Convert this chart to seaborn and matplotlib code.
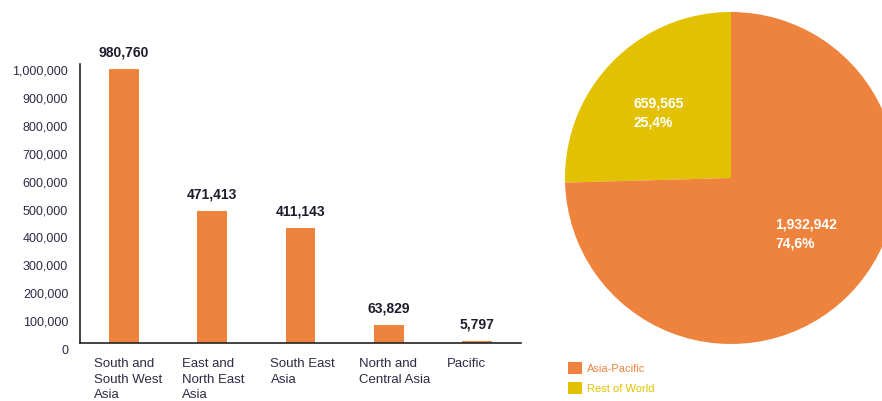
import matplotlib
matplotlib.use("Agg")
import matplotlib.pyplot as plt
import matplotlib.transforms as mtransforms
from matplotlib.patches import Patch
import numpy as np
import pandas as pd
import seaborn as sns

# ---------------- data ----------------
regions = ["South and\nSouth West\nAsia", "East and\nNorth East\nAsia",
           "South East\nAsia", "North and\nCentral Asia", "Pacific"]
region_values = [980760, 471413, 411143, 63829, 5797]
region_value_labels = ["980,760", "471,413", "411,143", "63,829", "5,797"]
y_ticks = [0, 100000, 200000, 300000, 400000, 500000, 600000, 700000, 800000, 900000, 1000000]
y_tick_labels = ["0", "100,000", "200,000", "300,000", "400,000", "500,000",
                 "600,000", "700,000", "800,000", "900,000", "1,000,000"]

pie_groups = ["Rest of World", "Asia-Pacific"]
pie_values = [659565, 1932942]
pie_labels = ["659,565\n25,4%", "1,932,942\n74,6%"]
legend_groups = ["Asia-Pacific", "Rest of World"]

# ---------------- style ----------------
ORANGE = "#EE833D"
YELLOW = "#E2C200"
TEXT_DARK = "#2b2b45"
group_colors = {"Asia-Pacific": ORANGE, "Rest of World": YELLOW}
# label anchor positions inside the pie (fraction of radius, polar: radius, angle deg)
pie_label_polar = [(0.584, 138.0), (0.564, -36.7)]

sns.set_style("white")
plt.rcParams["font.family"] = ["Liberation Sans", "DejaVu Sans"]

fig = plt.figure(figsize=(8.82, 4.01), dpi=100)

# ---------------- bar chart ----------------
W, H = 882.0, 401.0
ax = fig.add_axes([80 / W, 1 - 343 / H, 441 / W, 279 / H])
df = pd.DataFrame({"region": regions, "value": region_values})
sns.barplot(data=df, x="region", y="value", ax=ax, color=ORANGE,
            saturation=1, width=0.34, linewidth=0)

ax.set_xlim(-0.5, len(regions) - 0.5)
ax.set_ylim(0, 1000000)
ax.set_xlabel("")
ax.set_ylabel("")
for s in ["top", "right"]:
    ax.spines[s].set_visible(False)
for s in ["left", "bottom"]:
    ax.spines[s].set_color("#222222")
    ax.spines[s].set_linewidth(1.2)

ax.set_yticks(y_ticks)
ax.set_yticklabels(y_tick_labels)
ax.tick_params(axis="y", direction="in", length=6, width=1.2, color="#222222",
               pad=8.5, labelsize=9, labelcolor=TEXT_DARK)
shift_y = mtransforms.ScaledTranslation(0, -6 / 100, fig.dpi_scale_trans)
for lbl in ax.get_yticklabels():
    lbl.set_transform(lbl.get_transform() + shift_y)

# category boundary ticks (minor), labels on major ticks (hidden tick marks)
ax.set_xticks(np.arange(len(regions)))
ax.set_xticks(np.arange(len(regions) + 1) - 0.5, minor=True)
ax.set_xticklabels(regions, ha="left", linespacing=1.38, va="top")
ax.tick_params(axis="x", which="major", length=0, pad=11, labelsize=9.5,
               labelcolor=TEXT_DARK)
ax.tick_params(axis="x", which="minor", direction="in", length=6, width=1.2,
               color="#222222")
shift_x = mtransforms.ScaledTranslation(-30 / 100, 0, fig.dpi_scale_trans)
for lbl in ax.get_xticklabels():
    lbl.set_transform(lbl.get_transform() + shift_x)

ax.bar_label(ax.containers[0], labels=region_value_labels, padding=7,
             fontsize=10, fontweight="bold", color="#1c1c2c")

# ---------------- pie chart ----------------
cx, cy, r = 731.0, 178.0, 166.0
pax = fig.add_axes([(cx - r) / W, 1 - (cy + r) / H, 2 * r / W, 2 * r / H])
wedges, _ = pax.pie(pie_values, colors=[group_colors[g] for g in pie_groups],
                    startangle=90, counterclock=True, radius=1.0,
                    wedgeprops=dict(linewidth=0))
pax.set_xlim(-1, 1)
pax.set_ylim(-1, 1)
pax.set_aspect("equal")
pax.axis("off")
for (rr, deg), lab in zip(pie_label_polar, pie_labels):
    ang = np.deg2rad(deg)
    pax.text(rr * np.cos(ang), rr * np.sin(ang), lab, ha="center", va="center",
             multialignment="left", color="white", fontsize=10, fontweight="bold",
             linespacing=1.45)

# ---------------- legend ----------------
handles = [Patch(facecolor=group_colors[g], edgecolor="none") for g in legend_groups]
leg = fig.legend(handles, legend_groups, loc="upper left",
                 bbox_to_anchor=(564 / W, 1 - 358 / H), frameon=False,
                 fontsize=8, handlelength=1.25, handleheight=1.25,
                 handletextpad=0.4, labelspacing=0.7, borderaxespad=0)
for t, g in zip(leg.get_texts(), legend_groups):
    t.set_color(group_colors[g])

fig.savefig("out.png", dpi=100)
